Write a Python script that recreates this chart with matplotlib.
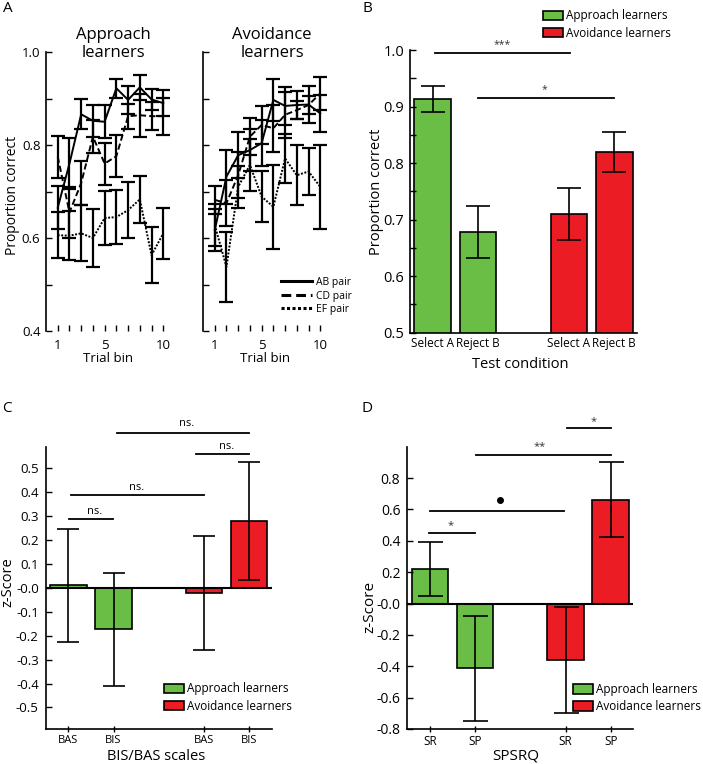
import matplotlib
matplotlib.use('Agg')
import matplotlib.pyplot as plt
from matplotlib.lines import Line2D
from matplotlib.patches import Patch
import numpy as np

plt.rcParams['font.family'] = ['Open Sans', 'DejaVu Sans']
plt.rcParams['axes.unicode_minus'] = False

W, H = 703, 764
GREEN = '#6abd45'
RED = '#ec1c24'

# ---------------- data ----------------
trial_bins = [1, 2, 3, 4, 5, 6, 7, 8, 9, 10]

appr_AB = [0.665, 0.76, 0.866, 0.852, 0.85, 0.922, 0.897, 0.924, 0.898, 0.89]
appr_AB_err = [0.046, 0.054, 0.032, 0.035, 0.036, 0.02, 0.03, 0.027, 0.022, 0.028]
appr_CD = [0.775, 0.655, 0.718, 0.818, 0.76, 0.776, 0.862, 0.864, 0.862, 0.862]
appr_CD_err = [0.045, 0.055, 0.048, 0.035, 0.045, 0.045, 0.027, 0.046, 0.03, 0.04]
appr_EF = [0.606, 0.605, 0.61, 0.60, 0.643, 0.645, 0.66, 0.683, 0.563, 0.61]
appr_EF_err = [0.05, 0.052, 0.06, 0.062, 0.057, 0.058, 0.06, 0.05, 0.06, 0.055]

avoid_AB = [0.617, 0.732, 0.778, 0.789, 0.804, 0.897, 0.884, 0.886, 0.887, 0.868]
avoid_AB_err = [0.045, 0.058, 0.05, 0.045, 0.05, 0.045, 0.04, 0.03, 0.04, 0.04]
avoid_CD = [0.682, 0.675, 0.735, 0.818, 0.843, 0.836, 0.865, 0.875, 0.886, 0.911]
avoid_CD_err = [0.03, 0.05, 0.05, 0.04, 0.04, 0.05, 0.05, 0.02, 0.02, 0.036]
avoid_EF = [0.628, 0.538, 0.71, 0.757, 0.689, 0.667, 0.771, 0.735, 0.743, 0.71]
avoid_EF_err = [0.045, 0.075, 0.045, 0.055, 0.055, 0.09, 0.052, 0.065, 0.05, 0.09]

pair_labels = ['AB pair', 'CD pair', 'EF pair']
group_labels = ['Approach learners', 'Avoidance learners']

# Panel B
b_conditions = ['Select A', 'Reject B', 'Select A', 'Reject B']
b_approach = [0.913, 0.678]
b_approach_err = [0.023, 0.046]
b_avoid = [0.71, 0.82]
b_avoid_err = [0.046, 0.035]

# Panel C
c_scales = ['BAS', 'BIS', 'BAS', 'BIS']
c_approach = [0.011, -0.174]
c_approach_err = [0.237, 0.237]
c_avoid = [-0.021, 0.279]
c_avoid_err = [0.237, 0.245]

# Panel D
d_scales = ['SR', 'SP', 'SR', 'SP']
d_approach = [0.22, -0.414]
d_approach_err = [0.175, 0.337]
d_avoid = [-0.361, 0.662]
d_avoid_err = [0.336, 0.24]

# significance annotations: (x1, x2, y_line, label, x_text, y_text)
b_sig = [(1.06, 4.02, 0.995, '***', 2.54, 1.010),
         (1.99, 4.99, 0.915, '*', 3.46, 0.930)]
c_sig = [(2.08, 5.0, 0.646, 'ns.', 3.61, 0.688),
         (3.82, 5.0, 0.559, 'ns.', 4.51, 0.590),
         (1.06, 4.0, 0.388, 'ns.', 2.51, 0.420),
         (1.02, 1.99, 0.286, 'ns.', 1.59, 0.318)]
d_sig = [(4.04, 5.0, 1.12, '*', 4.63, 1.16),
         (2.02, 5.0, 0.95, '**', 3.43, 1.00),
         (1.0, 3.97, 0.59, 'dot', 2.55, 0.658),
         (0.97, 2.0, 0.45, '*', 1.45, 0.50)]

# ---------------- figure ----------------
fig = plt.figure(figsize=(W / 100, H / 100), dpi=100)


def ax_px(l, t, r, b):
    return fig.add_axes([l / W, 1 - b / H, (r - l) / W, (b - t) / H])


def T(x, y, s, **kw):
    return fig.text(x / W, 1 - y / H, s, **kw)


styles = ['-', (0, (3.2, 1.6)), (0, (1, 0.8))]

# ---- Panel A ----
for (l, r), series, title, tx, show_y in [
        ((46, 175), [(appr_AB, appr_AB_err), (appr_CD, appr_CD_err), (appr_EF, appr_EF_err)],
         'Approach\nlearners', 113, True),
        ((203, 332), [(avoid_AB, avoid_AB_err), (avoid_CD, avoid_CD_err), (avoid_EF, avoid_EF_err)],
         'Avoidance\nlearners', 272, False)]:
    ax = ax_px(l, 52, r, 331)
    for (vals, errs), ls in zip(series, styles):
        ax.errorbar(trial_bins, vals, yerr=errs, color='k', ls=ls, lw=1.4,
                    elinewidth=1.6, capsize=5, capthick=1.6)
    ax.set_xlim(0, 11)
    ax.set_ylim(0.4, 1.0)
    for s in ['top', 'right', 'bottom']:
        ax.spines[s].set_visible(False)
    ax.spines['left'].set_linewidth(1.2)
    ax.set_xticks(trial_bins)
    ax.set_xticklabels(['1', '', '', '', '5', '', '', '', '', '10'])
    yt = np.round(np.arange(0.4, 1.01, 0.1), 1)
    ax.set_yticks(yt)
    if show_y:
        ax.set_yticklabels(['%.1f' % v if i % 2 == 0 else '' for i, v in enumerate(yt)])
    else:
        ax.set_yticklabels([])
    ax.tick_params(axis='both', direction='in', length=4, width=1, labelsize=9.5)
    ax.tick_params(axis='y', pad=4)
    ax.tick_params(axis='x', pad=6)
    T(tx, 44, title, ha='center', va='center', fontsize=12, linespacing=1.15)
    T((l + r) / 2 - 2, 358, 'Trial bin', ha='center', va='center', fontsize=9.5)
    if not show_y:
        handles = [Line2D([], [], color='k', ls=ls, lw=2.2) for ls in styles]
        fig.legend(handles, pair_labels, loc='center left',
                   bbox_to_anchor=(281 / W, 1 - 296 / H), frameon=False,
                   borderpad=0, borderaxespad=0, handlelength=3.0,
                   handletextpad=0.4, labelspacing=0.25, fontsize=7.5)

T(12.5, 195, 'Proportion correct', rotation=90, ha='center', va='center', fontsize=10)


def bar_panel(ax, appr, appr_err, avoid, avoid_err, capsize):
    pos = [1, 2, 4, 5]
    ax.bar(pos[:2], appr, width=0.81, color=GREEN, edgecolor='k', lw=1.2,
           yerr=appr_err, capsize=capsize, error_kw=dict(elinewidth=1.2, capthick=1.2))
    ax.bar(pos[2:], avoid, width=0.81, color=RED, edgecolor='k', lw=1.2,
           yerr=avoid_err, capsize=capsize, error_kw=dict(elinewidth=1.2, capthick=1.2))
    ax.set_xlim(0.5, 5.5)
    for s in ['top', 'right']:
        ax.spines[s].set_visible(False)
    ax.spines['left'].set_linewidth(1.2)
    ax.spines['bottom'].set_linewidth(1.2)
    ax.set_xticks(pos)
    return pos


def sig(ax, items, fs):
    for x1, x2, y, lab, xt, yt in items:
        ax.plot([x1, x2], [y, y], color='k', lw=1.3, clip_on=False)
        if lab == 'dot':
            ax.plot([xt], [yt], 'o', color='k', ms=4, clip_on=False)
        else:
            ax.text(xt, yt, lab, ha='center', va='center', fontsize=fs,
                    color='#333333' if '*' in lab else 'k', clip_on=False)


def group_legend(x, y, fs):
    handles = [Patch(facecolor=GREEN, edgecolor='k', lw=1.2),
               Patch(facecolor=RED, edgecolor='k', lw=1.2)]
    fig.legend(handles, group_labels, loc='center left',
               bbox_to_anchor=(x / W, 1 - y / H), frameon=False,
               borderpad=0, borderaxespad=0, handlelength=1.7, handleheight=0.85,
               handletextpad=0.25, labelspacing=0.35, fontsize=fs)


# ---- Panel B ----
axB = ax_px(410, 50, 637, 332.7)
bar_panel(axB, b_approach, b_approach_err, b_avoid, b_avoid_err, 8.4)
axB.set_ylim(0.5, 1.0)
ytB = np.round(np.arange(0.5, 1.001, 0.05), 2)
axB.set_yticks(ytB)
axB.set_yticklabels(['%.1f' % v if i % 2 == 0 else '' for i, v in enumerate(ytB)])
axB.set_xticklabels(b_conditions)
axB.tick_params(axis='y', direction='in', length=4, width=1, labelsize=10.5, pad=4)
axB.tick_params(axis='x', length=0, labelsize=8.5, pad=3)
sig(axB, b_sig, 7.5)
T(376, 191.5, 'Proportion correct', rotation=90, ha='center', va='center', fontsize=10.5)
T(520, 364, 'Test condition', ha='center', va='center', fontsize=10.5)
group_legend(543, 24.5, 8.5)

# ---- Panel C ----
axC = ax_px(45.7, 446.7, 271.7, 729)
bar_panel(axC, c_approach, c_approach_err, c_avoid, c_avoid_err, 7.7)
axC.axhline(0, color='k', lw=1.5)
axC.set_ylim(-0.59, 0.59)
ytC = np.round(np.arange(-0.5, 0.501, 0.1), 1)
axC.set_yticks(ytC)
axC.set_yticklabels(['%.1f' % v for v in ytC])
axC.set_xticklabels(c_scales)
axC.tick_params(axis='y', direction='in', length=4, width=1, labelsize=9.5, pad=5)
axC.tick_params(axis='x', direction='inout', length=5, width=1, labelsize=8, pad=2)
sig(axC, c_sig, 8)
T(7.5, 581.7, 'z-Score', rotation=90, ha='center', va='center', fontsize=10.5)
T(156, 756, 'BIS/BAS scales', ha='center', va='center', fontsize=10.5)
group_legend(164, 697.5, 8.5)

# ---- Panel D ----
axD = ax_px(407.3, 446.7, 633.3, 729)
bar_panel(axD, d_approach, d_approach_err, d_avoid, d_avoid_err, 9)
axD.axhline(0, color='k', lw=1.5)
axD.set_ylim(-0.8, 1.0)
ytD = np.round(np.arange(-0.8, 0.801, 0.2), 1)
axD.set_yticks(ytD)
axD.set_yticklabels(['%.1f' % v for v in ytD])
axD.set_xticklabels(d_scales)
axD.tick_params(axis='y', direction='in', length=4, width=1, labelsize=10, pad=5)
axD.tick_params(axis='x', direction='inout', length=5, width=1, labelsize=8.5, pad=2)
sig(axD, d_sig, 8)
T(370, 607, 'z-Score', rotation=90, ha='center', va='center', fontsize=11)
T(515.5, 756, 'SPSRQ', ha='center', va='center', fontsize=11)
group_legend(573, 698, 8.5)

# panel letters
for x, y, s in [(8, 9, 'A'), (367, 8, 'B'), (7, 408, 'C'), (367, 408, 'D')]:
    T(x, y, s, ha='center', va='center', fontsize=11)

fig.savefig('out.png', dpi=100)
